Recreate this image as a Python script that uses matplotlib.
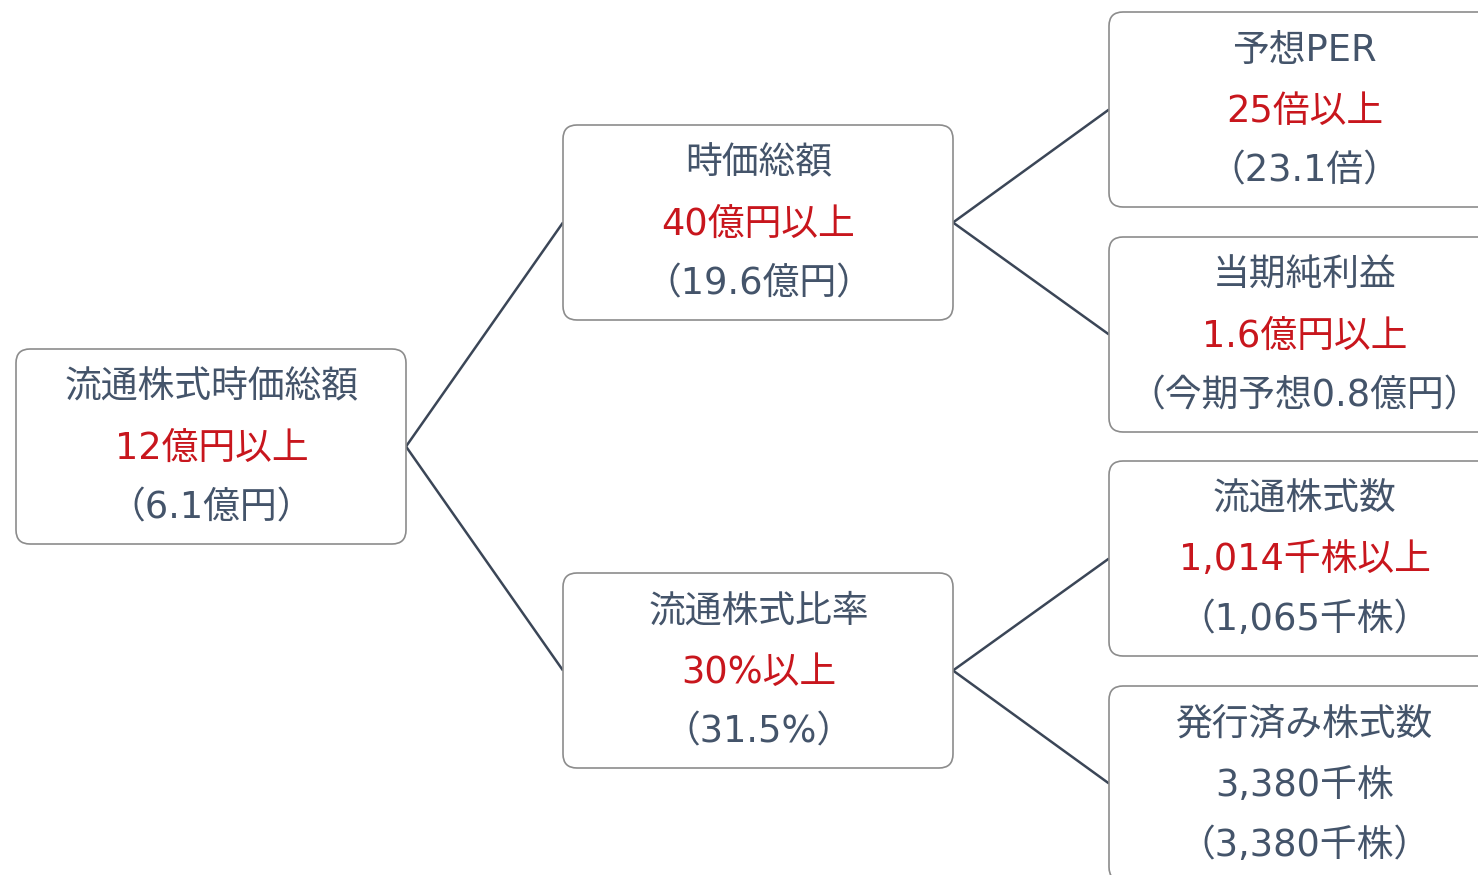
import matplotlib
matplotlib.use("Agg")
import matplotlib.pyplot as plt
from matplotlib.patches import FancyBboxPatch

plt.rcParams['font.family'] = ['DejaVu Sans', 'Noto Sans CJK JP']

# ---- data ----
titles = ["流通株式時価総額", "時価総額", "流通株式比率",
          "予想PER", "当期純利益", "流通株式数", "発行済み株式数"]
criteria = ["12億円以上", "40億円以上", "30%以上",
            "25倍以上", "1.6億円以上", "1,014千株以上", "3,380千株"]
actuals = ["（6.1億円）", "（19.6億円）", "（31.5%）",
           "（23.1倍）", "（今期予想0.8億円）", "（1,065千株）", "（3,380千株）"]
criteria_is_red = [True, True, True, True, True, True, False]
edges = [(0, 1), (0, 2), (1, 3), (1, 4), (2, 5), (2, 6)]

# ---- layout (pixels) ----
W, H = 1478, 875
box_w, box_h = 391, 195
col_x = [16, 563, 1109]
node_col = [0, 1, 1, 2, 2, 2, 2]
node_top = [349, 125, 573, 12, 237, 461, 686]

slate = "#44546A"
red = "#C8161D"
line_col = "#3B4657"
edge_col = "#8C8C8C"

fig = plt.figure(figsize=(W / 100, H / 100), dpi=100)
ax = fig.add_axes([0, 0, 1, 1])
ax.set_xlim(0, W)
ax.set_ylim(H, 0)
ax.axis("off")

def center_left(i):
    return col_x[node_col[i]], node_top[i] + box_h / 2

def center_right(i):
    return col_x[node_col[i]] + box_w - 1, node_top[i] + box_h / 2

for p, c in edges:
    x0, y0 = center_right(p)
    x1, y1 = center_left(c)
    ax.plot([x0, x1], [y0, y1], color=line_col, lw=1.8, zorder=1,
            solid_capstyle="butt")

fs = 26.5
for i in range(len(titles)):
    x = col_x[node_col[i]]
    y = node_top[i]
    box = FancyBboxPatch((x, y), box_w - 1, box_h,
                         boxstyle="round,pad=0,rounding_size=14",
                         facecolor="white", edgecolor=edge_col, lw=1.2, zorder=2)
    ax.add_patch(box)
    cx = x + box_w / 2
    ax.text(cx, y + 38, titles[i], ha="center", va="center",
            fontsize=fs, color=slate, zorder=3)
    ax.text(cx, y + 99, criteria[i], ha="center", va="center",
            fontsize=fs, color=red if criteria_is_red[i] else slate, zorder=3)
    ax.text(cx, y + 159, actuals[i], ha="center", va="center",
            fontsize=fs, color=slate, zorder=3)

fig.savefig("out.png", dpi=100, facecolor="white")
